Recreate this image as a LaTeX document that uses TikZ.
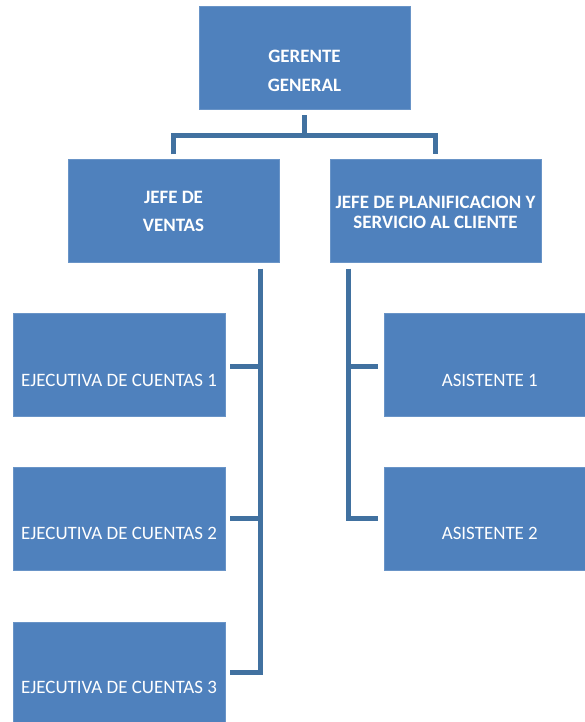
\documentclass[tikz,border=0pt]{standalone}
\usepackage{fontspec}
\setmainfont{Carlito}
\usepackage{xcolor}
\usetikzlibrary{positioning, calc}

\definecolor{boxblue}{RGB}{79,129,189}
\definecolor{lineblue}{RGB}{65,113,160}

\begin{document}
\begin{tikzpicture}[x=0.75pt, y=-0.75pt,
    puesto/.style={draw=boxblue!85!white, line width=0.5pt, fill=boxblue,
        minimum width=158pt, minimum height=77pt, inner sep=0pt},
    txt/.style={text=white, align=center, font=\fontsize{14.2}{15}\selectfont},
    txtb/.style={txt, font=\fontsize{14.2}{15}\selectfont\bfseries},
    link/.style={draw=lineblue, line width=3.75pt}]
  \useasboundingbox (0,0) rectangle (585,722);

  % cajas
  \node[puesto, label={[txtb, yshift=-10.25pt]center:GERENTE\\[6.75pt]GENERAL}] (g) at (304.5,57.5) {};
  \node[puesto, label={[txtb]center:JEFE DE\\[6pt]VENTAS}] (jv) at (173.5,211) {};
  \node[puesto, label={[txtb, yshift=-1.25pt]center:JEFE DE PLANIFICACION Y\\SERVICIO AL CLIENTE}] (jp) at (435.5,211) {};
  \node[puesto, minimum width=159pt, label={[txt, yshift=-11.25pt]center:EJECUTIVA DE CUENTAS 1}] (e1) at (119,365) {};
  \node[puesto, minimum width=159pt, label={[txt, yshift=-11.25pt]center:EJECUTIVA DE CUENTAS 2}] (e2) at (119,518.5) {};
  \node[puesto, minimum width=159pt, minimum height=75pt, label={[txt, yshift=-11.25pt]center:EJECUTIVA DE CUENTAS 3}] (e3) at (119,672) {};
  \node[puesto, minimum width=151pt, label={[txt, xshift=4pt, yshift=-11.25pt]center:ASISTENTE 1}] (a1) at (484.5,365) {};
  \node[puesto, minimum width=151pt, label={[txt, xshift=4pt, yshift=-11.25pt]center:ASISTENTE 2}] (a2) at (484.5,518.5) {};

  % lineas
  \coordinate (gj) at ($(g.south)+(0,26)$);
  \draw[link] ($(g.south)+(0,6)$) -- (gj);
  \draw[link] ($(jv.north)+(0,-5)$) |- (gj) -| ($(jp.north)+(0,-5)$);

  \coordinate (lt) at ($(jv.south east)+(-19,6)$);
  \draw[link] (lt) |- ($(e3.east)+(5,0)$);
  \draw[link] ($(e1.east)+(5,1)$) -- (lt |- {$(e1.east)+(5,1)$});
  \draw[link] ($(e2.east)+(5,0)$) -- (lt |- e2.east);

  \coordinate (rt) at ($(jp.south west)+(19,6)$);
  \draw[link] (rt) |- ($(a2.west)+(-6,0)$);
  \draw[link] ($(a1.west)+(-6,1)$) -- (rt |- {$(a1.west)+(-6,1)$});
\end{tikzpicture}
\end{document}
